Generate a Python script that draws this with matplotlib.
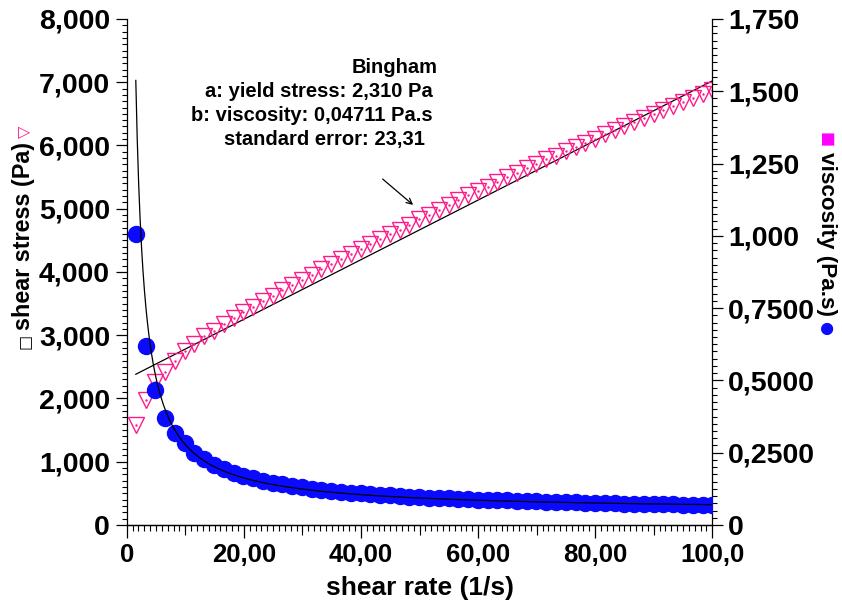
import numpy as np
import matplotlib
matplotlib.use('Agg')
import matplotlib.pyplot as plt
from matplotlib import font_manager
from matplotlib.ticker import FuncFormatter, MultipleLocator
from matplotlib.transforms import IdentityTransform

# Dữ liệu đo: tốc độ trượt (1/s), ứng suất trượt (Pa), độ nhớt (Pa.s)
shear_rate = [1.55, 3.22, 4.89, 6.56, 8.23, 9.89, 11.56, 13.23, 14.90, 16.57,
              18.24, 19.91, 21.57, 23.24, 24.91, 26.58, 28.25, 29.92, 31.59, 33.25,
              34.92, 36.59, 38.26, 39.93, 41.60, 43.27, 44.94, 46.60, 48.27, 49.94,
              51.61, 53.28, 54.95, 56.62, 58.28, 59.95, 61.62, 63.29, 64.96, 66.63,
              68.30, 69.96, 71.63, 73.30, 74.97, 76.64, 78.31, 79.98, 81.64, 83.31,
              84.98, 86.65, 88.32, 89.99, 91.66, 93.32, 94.99, 96.66, 98.33, 100.0]
shear_stress = [1.58, 1.98, 2.26, 2.42, 2.60, 2.75, 2.86, 2.98, 3.07, 3.18,
                3.27, 3.36, 3.45, 3.54, 3.62, 3.71, 3.79, 3.88, 3.96, 4.04,
                4.12, 4.20, 4.28, 4.36, 4.44, 4.52, 4.60, 4.67, 4.75, 4.83,
                4.90, 4.98, 5.06, 5.13, 5.21, 5.28, 5.35, 5.43, 5.50, 5.57,
                5.64, 5.71, 5.78, 5.84, 5.91, 5.98, 6.04, 6.11, 6.18, 6.24,
                6.31, 6.37, 6.44, 6.50, 6.56, 6.63, 6.69, 6.75, 6.82, 6.88]
viscosity = [1.005, 0.620, 0.467, 0.371, 0.318, 0.284, 0.250, 0.228, 0.209, 0.194,
             0.181, 0.170, 0.161, 0.153, 0.146, 0.140, 0.135, 0.130, 0.126, 0.122,
             0.118, 0.115, 0.112, 0.109, 0.107, 0.104, 0.102, 0.100, 0.098, 0.097,
             0.095, 0.093, 0.092, 0.091, 0.089, 0.088, 0.087, 0.086, 0.085, 0.084,
             0.083, 0.082, 0.081, 0.080, 0.079, 0.078, 0.077, 0.076, 0.076, 0.075,
             0.074, 0.074, 0.073, 0.072, 0.072, 0.071, 0.070, 0.070, 0.069, 0.069]

# Tham số mô hình Bingham
yield_stress = 2.310      # Pa
bingham_visc = 0.04711    # Pa.s
std_error = 23.31

PINK = '#ff1a8c'
BLUE = '#0a0aff'
BOLD = dict(family=['Liberation Sans', 'DejaVu Sans'], weight='bold')

# chữ hẹp cho trục hoành nếu có font Narrow
installed = {f.name for f in font_manager.fontManager.ttflist}
if 'Liberation Sans Narrow' in installed:
    NARROW = dict(family=['Liberation Sans Narrow'], weight='bold')
    xtick_size, xlabel_size = 22.5, 22.5
else:
    NARROW = dict(family=['Liberation Sans'], weight='bold')
    xtick_size, xlabel_size = 18.5, 19


def comma_fmt(v, pos):
    # 4 chữ số có nghĩa, dấu phẩy thập phân
    if abs(v) < 1e-9:
        return '0'
    return f'{v:#.4g}'.replace('.', ',')


fig = plt.figure(figsize=(8.42, 6.06), dpi=100)
ax = fig.add_axes([0.1505, 0.1337, 0.6955, 0.8350])
ax2 = ax.twinx()

# Đường khớp Bingham
x_fit = np.array([shear_rate[0], 100.0])
ax.plot(x_fit, yield_stress + bingham_visc * x_fit, color='black', lw=0.9, zorder=2)
ax.plot(shear_rate, shear_stress, linestyle='none', marker='v', ms=11,
        mfc='none', mec=PINK, mew=1.0, zorder=3)
ax.plot(shear_rate, shear_stress, linestyle='none', marker='.', ms=1.5,
        color=PINK, zorder=3)

x_curve = np.linspace(shear_rate[0], 100.0, 400)
ax2.plot(shear_rate, viscosity, linestyle='none', marker='o', ms=11.5,
         color=BLUE, mec=BLUE, zorder=3)
ax2.plot(x_curve, yield_stress / x_curve + bingham_visc, color='black', lw=0.9, zorder=4)

ax.set_xlim(0, 100)
ax.set_ylim(0, 8)
ax2.set_ylim(0, 1.75)

for a in (ax, ax2):
    a.spines['top'].set_visible(False)
    for s in a.spines.values():
        s.set_linewidth(0.9)
ax.spines['right'].set_visible(False)
ax2.spines['left'].set_visible(False)

ax.xaxis.set_major_locator(MultipleLocator(20))
ax.xaxis.set_minor_locator(MultipleLocator(1))
ax.yaxis.set_major_locator(MultipleLocator(1))
ax.yaxis.set_minor_locator(MultipleLocator(0.1))
ax2.yaxis.set_major_locator(MultipleLocator(0.25))
ax2.yaxis.set_minor_locator(MultipleLocator(0.025))
for axis in (ax.xaxis, ax.yaxis, ax2.yaxis):
    axis.set_major_formatter(FuncFormatter(comma_fmt))

ax.tick_params(axis='y', which='major', length=8, width=0.9, pad=4)
ax.tick_params(axis='y', which='minor', length=3.6, width=0.8)
ax2.tick_params(axis='y', which='major', length=8, width=0.9, pad=3.5)
ax2.tick_params(axis='y', which='minor', length=3.6, width=0.8)
ax.tick_params(axis='x', which='major', length=9.5, width=0.9, pad=3.5)
ax.tick_params(axis='x', which='minor', length=4.5, width=0.8)

# vạch trung gian tại 10, 30, 50...
sec = ax.secondary_xaxis('bottom')
sec.set_xticks([10, 30, 50, 70, 90])
sec.set_xticklabels([])
sec.spines['bottom'].set_visible(False)
sec.tick_params(axis='x', length=7, width=0.8)

for lab in ax.get_yticklabels() + ax2.get_yticklabels():
    lab.set_fontproperties(font_manager.FontProperties(size=20.5, **BOLD))
for lab in ax.get_xticklabels():
    lab.set_fontproperties(font_manager.FontProperties(size=xtick_size, **NARROW))

ax.set_xlabel('shear rate (1/s)', fontsize=xlabel_size, labelpad=6.5, **NARROW)

# Nhãn trục tung
W, H = 842, 606
lbl_left = fig.text(24 / W, 1 - 236 / H, 'shear stress (Pa)', rotation=90,
                    ha='center', va='center', fontsize=16.8, **BOLD)
lbl_right = fig.text(826 / W, 1 - 234 / H, 'viscosity (Pa.s)', rotation=270,
                     ha='center', va='center', fontsize=16.2, **BOLD)

# Chú thích mô hình
notes = [('Bingham', 438, 73),
         ('a: yield stress: ' + f'{yield_stress:.3f}'.replace('.', ',') + ' Pa', 433, 97),
         ('b: viscosity: ' + f'{bingham_visc:.5f}'.replace('.', ',') + ' Pa.s', 433, 121),
         ('standard error: ' + f'{std_error:.2f}'.replace('.', ','), 425, 145)]
for txt, xr, yb in notes:
    fig.text(xr / W, 1 - yb / H, txt, ha='right', va='baseline', fontsize=14.5, **BOLD)

ax.annotate('', xy=(48.9, 5.06), xytext=(43.7, 5.47),
            arrowprops=dict(arrowstyle='->', lw=0.9, color='black',
                            shrinkA=0, shrinkB=0))

# Ký hiệu chú giải gắn vào nhãn trục
fig.canvas.draw()
r = fig.canvas.get_renderer()
sym = dict(family=['DejaVu Sans'], fontsize=11.5, transform=IdentityTransform())
bl = lbl_left.get_window_extent(r)
cx = (bl.x0 + bl.x1) / 2
fig.text(cx, bl.y0 - 4, '\u25a1', rotation=90, ha='center', va='top', color='black', **sym)
fig.text(cx, bl.y1 + 4, '\u25bd', rotation=90, ha='center', va='bottom', color=PINK, **sym)
br = lbl_right.get_window_extent(r)
cx = (br.x0 + br.x1) / 2
fig.text(cx, br.y1 + 5, '\u25a0', rotation=270, ha='center', va='bottom', color='#ff00ff', **sym)
fig.text(cx, br.y0 - 5, '\u25cf', rotation=270, ha='center', va='top', color=BLUE, **sym)

fig.savefig('out.png', dpi=100)
